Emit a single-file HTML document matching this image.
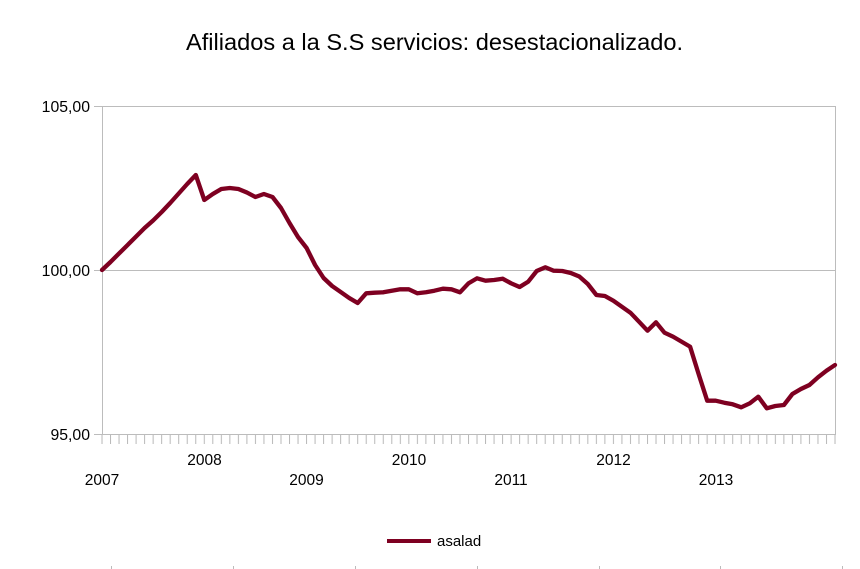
<!DOCTYPE html>
<html>
<head>
<meta charset="utf-8">
<style>
html,body{margin:0;padding:0;background:#fff;}
svg{display:block;}
text{font-family:"Liberation Sans",Arial,sans-serif;fill:#000;}
</style>
</head>
<body>
<svg width="860" height="569" viewBox="0 0 860 569" xmlns="http://www.w3.org/2000/svg">
<defs>
<pattern id="xt" patternUnits="userSpaceOnUse" x="101.5" y="435" width="8.5233" height="9">
<rect x="0" y="0" width="1" height="9" fill="#b8b8b8"/>
</pattern>
</defs>
<rect width="860" height="569" fill="#fff"/>
<text x="186" y="50" font-size="23" textLength="497" lengthAdjust="spacingAndGlyphs">Afiliados a la S.S servicios: desestacionalizado.</text>

<!-- grid -->
<line x1="94" y1="106.5" x2="835" y2="106.5" stroke="#bcbcbc" stroke-width="1"/>
<line x1="94" y1="270.5" x2="835" y2="270.5" stroke="#bcbcbc" stroke-width="1"/>
<line x1="94" y1="434.5" x2="835" y2="434.5" stroke="#bcbcbc" stroke-width="1"/>
<line x1="102.5" y1="106" x2="102.5" y2="435" stroke="#bcbcbc" stroke-width="1"/>
<line x1="835.5" y1="106" x2="835.5" y2="435" stroke="#bcbcbc" stroke-width="1"/>
<rect x="101.5" y="435" width="735" height="9" fill="url(#xt)"/>

<!-- y labels -->
<text x="90" y="112" font-size="15.8" text-anchor="end">105,00</text>
<text x="90" y="276" font-size="15.8" text-anchor="end">100,00</text>
<text x="90" y="440" font-size="15.8" text-anchor="end">95,00</text>

<!-- x labels -->
<text x="102" y="485" font-size="15.5" text-anchor="middle">2007</text>
<text x="204.5" y="465" font-size="15.5" text-anchor="middle">2008</text>
<text x="306.5" y="485" font-size="15.5" text-anchor="middle">2009</text>
<text x="409" y="465" font-size="15.5" text-anchor="middle">2010</text>
<text x="511" y="485" font-size="15.5" text-anchor="middle">2011</text>
<text x="613.5" y="465" font-size="15.5" text-anchor="middle">2012</text>
<text x="716" y="485" font-size="15.5" text-anchor="middle">2013</text>

<!-- series -->
<polyline fill="none" stroke="#7e0021" stroke-width="4.3" stroke-linejoin="round" stroke-linecap="round" points="
102,270 110.5,262 119,253.5 127.6,245 136.1,236.5 144.6,228 153.1,220.5 161.7,212 170.2,203 178.7,193.5 187.2,184 195.8,175
204.3,200 212.8,194 221.3,189 229.8,188 238.4,189 246.9,192.5 255.4,197 263.9,194 272.5,197 281,208 289.5,223 298,237
306.6,248 315.1,265 323.6,278 332.1,286 340.7,292 349.2,298 357.7,303 366.2,293.3 374.7,292.7 383.3,292.3 391.8,290.7 400.3,289.3
408.8,289.3 417.4,293.3 425.9,292.3 434.4,290.7 442.9,288.7 451.5,289.3 460,292.3 468.5,283.3 477,278.3 485.5,280.7 494.1,280 502.6,278.7
511.1,283.3 519.6,287 528.2,281.7 536.7,271 545.2,267.3 553.7,270.7 562.3,271 570.8,273 579.3,276.5 587.8,284 596.4,295 604.9,296
613.4,300.7 621.9,306.7 630.4,312.7 639,321.7 647.5,330.7 656,322.3 664.5,332.7 673.1,336.7 681.6,341.7 690.1,346.7 698.6,374 707.2,400.7
715.7,400.7 724.2,402.7 732.7,404.3 741.2,407.3 749.8,403.3 758.3,396.7 766.8,408.3 775.3,406 783.9,405 792.4,394 800.9,389 809.4,385
818,377.3 826.5,370.7 835,365"/>

<!-- legend -->
<line x1="387" y1="541" x2="431" y2="541" stroke="#7e0021" stroke-width="4"/>
<text x="437" y="546" font-size="15">asalad</text>

<!-- tiny bottom marks -->
<g fill="#bbbbbb">
<rect x="111" y="566" width="1" height="3"/>
<rect x="233" y="566" width="1" height="3"/>
<rect x="355" y="566" width="1" height="3"/>
<rect x="477" y="566" width="1" height="3"/>
<rect x="599" y="566" width="1" height="3"/>
<rect x="720" y="566" width="1" height="3"/>
<rect x="842" y="566" width="1" height="3"/>
</g>
</svg>
</body>
</html>
